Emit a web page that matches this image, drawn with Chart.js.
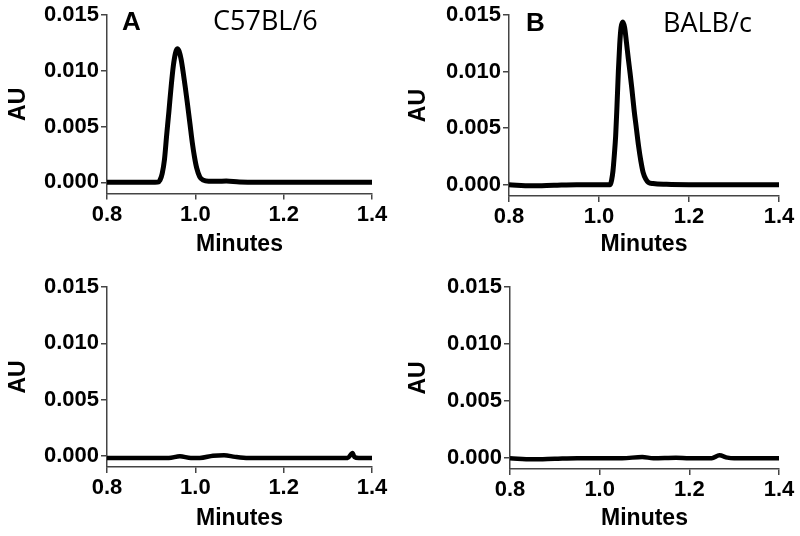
<!DOCTYPE html>
<html>
<head>
<meta charset="utf-8">
<script src="https://cdn.jsdelivr.net/npm/chart.js@4.4.0/dist/chart.umd.min.js"></script>
<style>
body{margin:0;background:#fff}
#fig{position:relative;width:800px;height:536px;background:#fff}
#fig canvas{position:absolute}
</style>
</head>
<body>
<div id="fig">
  <canvas id="panelA" width="400" height="268" style="left:0;top:0"></canvas>
  <canvas id="panelB" width="400" height="268" style="left:400px;top:0"></canvas>
  <canvas id="panelC" width="400" height="268" style="left:0;top:268px"></canvas>
  <canvas id="panelD" width="400" height="268" style="left:400px;top:268px"></canvas>
</div>
<script>
// values (minutes / AU)
const tiempoA=[0.80,0.85,0.90,0.915,0.920,0.925,0.930,0.935,0.940,0.945,0.950,0.955,0.959,0.963,0.968,0.972,0.977,0.982,0.988,0.993,0.998,1.003,1.010,1.018,1.030,1.050,1.070,1.100,1.200,1.300,1.400]
const auA=[0,0,0,0.00002,0.0002,0.0008,0.0020,0.0042,0.0063,0.0085,0.0104,0.0116,0.0120,0.0118,0.0110,0.0100,0.0086,0.0071,0.0052,0.0036,0.0023,0.0013,0.0005,0.0002,0.0001,0.0001,0.00012,0.00003,0,0,0]

const tiempoB=[0.80,0.85,0.90,0.95,1.000,1.025,1.028,1.031,1.034,1.037,1.040,1.043,1.046,1.049,1.053,1.057,1.061,1.065,1.069,1.073,1.078,1.083,1.088,1.093,1.098,1.104,1.110,1.120,1.150,1.200,1.300,1.400]
const auB=[0,-0.0001,-0.00005,0,0,0,0.0004,0.0012,0.0026,0.0043,0.0070,0.0100,0.0124,0.0139,0.0144,0.0139,0.0126,0.0112,0.0099,0.0085,0.0066,0.0050,0.0034,0.0021,0.0011,0.0005,0.0002,0.0001,0.00003,0,0,0]

const tiempoC=[0.80,0.90,0.94,0.965,0.99,1.01,1.04,1.065,1.09,1.12,1.20,1.30,1.345,1.352,1.356,1.360,1.370,1.400]
const auC=[-0.0002,-0.0002,-0.0002,-0.00005,-0.0002,-0.0002,0,0.00005,-0.0001,-0.0002,-0.0002,-0.0002,-0.0002,0.0001,0.00025,-0.0001,-0.0002,-0.0002]

const tiempoD=[0.80,0.85,0.90,0.95,1.00,1.05,1.095,1.12,1.17,1.20,1.25,1.267,1.285,1.30,1.40]
const auD=[-0.00005,-0.00015,-0.0001,-0.00005,-0.00005,-0.00005,0.00005,-0.00005,0,-0.00005,-0.00005,0.0002,0,-0.00005,-0.00005]

const ticksX=[0.8,1.0,1.2,1.4]
const ticksY=[0,0.005,0.010,0.015]

const negrita=(size)=>({family:'Liberation Sans, Arial, sans-serif',weight:'bold',size:size})

// letters and strain names on the top panels
const etiquetas={
  id:'etiquetas',
  afterDraw(chart,args,opts){
    const ctx=chart.ctx;
    (opts.textos||[]).forEach(t=>{
      ctx.save();
      ctx.font=t.font;
      ctx.fillStyle='#000';
      ctx.textBaseline='alphabetic';
      ctx.fillText(t.txt,t.x,t.y);
      ctx.restore();
    })
  }
}

const panel=(id,tiempo,au,area,textos,grosor)=>{
  const cv=document.getElementById(id)
  const W=cv.width,H=cv.height
  const pb=area.pb
  return new Chart(cv,{
    type:'scatter',
    data:{
      datasets:[{
        data:tiempo.map((t,i)=>({x:t,y:au[i]})),
        showLine:true,
        borderColor:'#000',
        borderWidth:grosor,
        pointRadius:0,
        cubicInterpolationMode:'monotone',
        fill:false
      }]
    },
    options:{
      responsive:false,
      animation:false,
      devicePixelRatio:1,
      layout:{padding:{left:0,right:W-area.r,top:area.t,bottom:pb}},
      plugins:{legend:{display:false},tooltip:{enabled:false},etiquetas:{textos:textos}},
      scales:{
        x:{
          type:'linear',min:0.8,max:1.4,
          afterBuildTicks:s=>{s.ticks=ticksX.map(v=>({value:v}))},
          afterFit:s=>{s.height=H-pb-area.b},
          ticks:{font:negrita(22),color:'#000',padding:2,autoSkip:false,maxRotation:0,callback:v=>v.toFixed(1)},
          grid:{drawOnChartArea:false,drawTicks:true,tickLength:6,color:'#444',lineWidth:1.5},
          border:{display:true,color:'#444',width:1.5},
          title:{display:true,text:'Minutes',font:negrita(23),color:'#000',padding:0}
        },
        y:{
          type:'linear',min:-0.001,max:0.015,
          afterBuildTicks:s=>{s.ticks=ticksY.map(v=>({value:v}))},
          afterFit:s=>{s.width=area.l},
          ticks:{font:negrita(22),color:'#000',padding:2,autoSkip:false,callback:v=>v.toFixed(3)},
          grid:{drawOnChartArea:false,drawTicks:true,tickLength:6,color:'#444',lineWidth:1.5},
          border:{display:true,color:'#444',width:1.5},
          title:{display:true,text:'AU',font:negrita(23),color:'#000',padding:{top:5,bottom:0}}
        }
      }
    },
    plugins:[etiquetas]
  })
}

const letra='bold 26px "Liberation Sans", Arial, sans-serif'
const cepa='27px "Open Sans", sans-serif'

panel('panelA',tiempoA,auA,{l:107,r:372,t:15,b:193.5,pb:10},
  [{txt:'A',x:122,y:30,font:letra},{txt:'C57BL/6',x:213,y:30,font:cepa}],5)
panel('panelB',tiempoB,auB,{l:109,r:379,t:15,b:196,pb:10},
  [{txt:'B',x:126,y:31,font:letra},{txt:'BALB/c',x:263,y:32,font:cepa}],5)
panel('panelC',tiempoC,auC,{l:107,r:372,t:19,b:199,pb:4},[],4.5)
panel('panelD',tiempoD,auD,{l:110,r:379,t:19,b:201,pb:4},[],4.5)
</script>
</body>
</html>
